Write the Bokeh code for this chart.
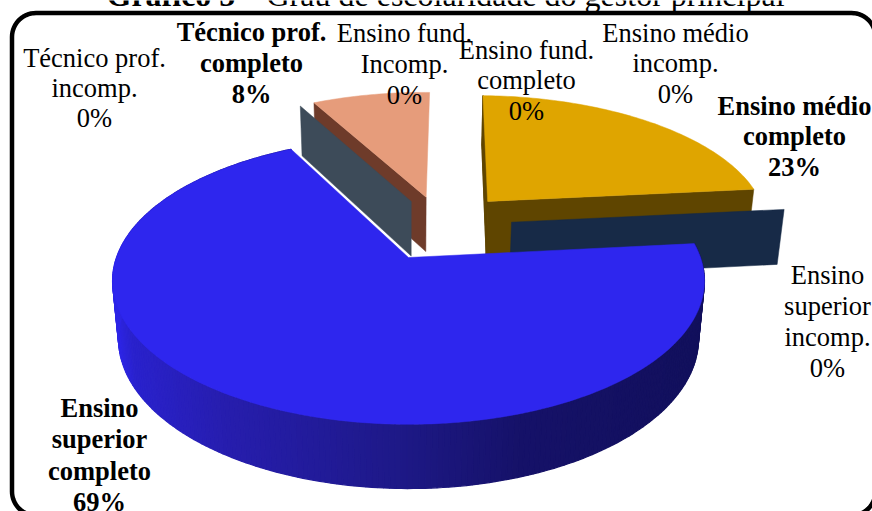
import numpy as np
from bokeh.core.properties import value
from bokeh.embed import file_html
from bokeh.plotting import figure
from bokeh.resources import INLINE

# Survey shares, in the pie's clockwise order starting near twelve o'clock
categories = [
    "Ensino fund. Incomp.", "Ensino fund. completo", "Ensino médio incomp.",
    "Ensino médio completo", "Ensino superior incomp.", "Ensino superior completo",
    "Técnico prof. incomp.", "Técnico prof. completo",
]
percent = [0, 0, 0, 23, 0, 69, 0, 8]

# Label text, one list of lines per category
label_lines = [
    ["Ensino fund.", "Incomp.", "0%"],
    ["Ensino fund.", "completo", "0%"],
    ["Ensino médio", "incomp.", "0%"],
    ["Ensino médio", "completo", "23%"],
    ["Ensino", "superior", "incomp.", "0%"],
    ["Ensino", "superior", "completo", "69%"],
    ["Técnico prof.", "incomp.", "0%"],
    ["Técnico prof.", "completo", "8%"],
]
label_bold = [False, False, False, True, False, True, False, True]
label_center_x = [404, 526, 675, 794, 827, 99, 94, 251]
label_first_y = [32, 49, 32, 105, 274, 407, 57, 31]
label_line_step = [31, 30.5, 30.5, 30.5, 31, 31.5, 30, 31]

# Slice offsets on the pie's plane and the colours of their faces
explode = [(0.29, 0.43), (0.29, 0.43), (0.29, 0.43), (0.29, 0.43),
           (0.368, 0.264), (0.0, 0.0), (0.01, 0.43), (0.065, 0.465)]
top_color = ["#dfa500", "#dfa500", "#dfa500", "#dfa500", "#172a47", "#2e26ee", "#3d4b59", "#e69c7b"]
wall_color = ["#5f4500", "#5f4500", "#5f4500", "#5f4500", "#172a47", "#2e26ee", "#3d4b59", "#6e3b2a"]
draw_order = [7, 6, 0, 1, 2, 3, 4, 5]
FIRST_SLICE_ANGLE = 1.4

# Camera used for the tilted pie
CX, CY = 408.0, 257.0
SCALE_X, SCALE_Y, DEPTH = 292.0, 139.6, 58.4
TILT, FALLOFF = 0.163, 0.02

TITLE_BOLD = "Gráfico 5"
TITLE_REST = "– Grau de escolaridade do gestor principal"
SERIF = value("Liberation Serif")


def project(x, y, z=0.0):
    """Plane coordinates (unit radius) plus height drop z to page position."""
    x, y = np.asarray(x, dtype=float), np.asarray(y, dtype=float)
    w = 1 + TILT * y + FALLOFF * z
    return CX + SCALE_X * x / w, CY - (SCALE_Y * y - DEPTH * z) / w


def arc(start, stop, offset, step=1.0):
    n = max(2, int(abs(stop - start) / step) + 1)
    a = np.radians(np.linspace(start, stop, n))
    return offset[0] + np.sin(a), offset[1] + np.cos(a)


def side_shade(px):
    t = np.array([112, 130, 220, 400, 520, 710])
    r = np.array([46, 42, 39, 30, 22, 18])
    g = np.array([38, 34, 30, 25, 18, 16])
    b = np.array([232, 205, 175, 135, 105, 92])
    return "#%02x%02x%02x" % (int(np.interp(px, t, r)), int(np.interp(px, t, g)), int(np.interp(px, t, b)))


p = figure(width=872, height=511, x_range=(0, 872), y_range=(511, 0),
           x_axis_type=None, y_axis_type=None, toolbar_location=None,
           output_backend="svg", min_border=0, outline_line_color=None)
p.grid.visible = False
p.background_fill_color = "white"
p.border_fill_color = "white"

# Rounded frame around the plot area
L, T, R, B, RAD = 11.5, 12.5, 875.0, 515.0, 24.0
corners = [(R - RAD, T + RAD, -90, 0), (R - RAD, B - RAD, 0, 90),
           (L + RAD, B - RAD, 90, 180), (L + RAD, T + RAD, 180, 270)]
fx, fy = [], []
for ccx, ccy, a0, a1 in corners:
    th = np.radians(np.linspace(a0, a1, 16))
    fx += list(ccx + RAD * np.cos(th))
    fy += list(ccy + RAD * np.sin(th))
p.patch(fx + fx[:1], fy + fy[:1], fill_color=None, line_color="black", line_width=4.5)

# Slices, back to front
bounds = FIRST_SLICE_ANGLE + np.concatenate([[0.0], np.cumsum(percent)]) * 3.6
for i in draw_order:
    start, stop = bounds[i], bounds[i + 1]
    off = explode[i]
    if percent[i] == 0:
        # An empty slice still shows as a flat radial wall
        a = np.radians(start)
        xs = [off[0], off[0] + np.sin(a)]
        ys = [off[1], off[1] + np.cos(a)]
        tx, ty = project(xs, ys)
        bx, by = project(xs, ys, 1.0)
        face = top_color[i] if i >= 4 else wall_color[i]
        p.patch(list(tx) + list(bx[::-1]), list(ty) + list(by[::-1]),
                fill_color=face, line_color=face, line_width=0.5)
        continue

    ax, ay = arc(start, stop, off)
    if i == 5:
        # Rounded outer wall, shaded across its width
        sx, sy = [], []
        colors = []
        for a0 in np.arange(start, stop, 1.0):
            qx, qy = arc(a0, min(a0 + 1.0, stop), off)
            tx, ty = project(qx, qy)
            bx, by = project(qx, qy, 1.0)
            sx.append(list(tx) + list(bx[::-1]))
            sy.append(list(ty) + list(by[::-1]))
            colors.append(side_shade(float(np.mean(tx))))
        p.patches(sx, sy, fill_color=colors, line_color=colors, line_width=1.2)
    else:
        # Straight cut face running from the apex to the clockwise end of the arc
        a = np.radians(stop if i == 3 else start)
        xs = [off[0], off[0] + np.sin(a)]
        ys = [off[1], off[1] + np.cos(a)]
        tx, ty = project(xs, ys)
        bx, by = project(xs, ys, 1.0)
        p.patch(list(tx) + list(bx[::-1]), list(ty) + list(by[::-1]),
                fill_color=wall_color[i], line_color=wall_color[i], line_width=0.5)

    px, py = project(np.r_[off[0], ax], np.r_[off[1], ay])
    p.patch(px, py, fill_color=top_color[i], line_color=top_color[i], line_width=0.5)

# Title, sitting against the page's top edge
TITLE_SIZE = "32px"
p.text([106], [-6], text=[TITLE_BOLD], text_font=SERIF, text_font_size=TITLE_SIZE, text_font_style="bold",
       text_baseline="alphabetic", text_align="left", text_color="black")
p.text([242], [-6], text=[TITLE_REST], text_font=SERIF, text_font_size=TITLE_SIZE,
       text_baseline="alphabetic", text_align="left", text_color="black")

# Data labels
for lines, bold, cx, y0, step in zip(label_lines, label_bold, label_center_x,
                                     label_first_y, label_line_step):
    ys = [y0 + k * step for k in range(len(lines))]
    p.text([cx] * len(lines), ys, text=lines, text_font=SERIF, text_font_size="26.5px",
           text_font_style="bold" if bold else "normal", text_align="center",
           text_baseline="alphabetic", text_color="black")

open("out.html", "w").write(file_html(p, INLINE))
